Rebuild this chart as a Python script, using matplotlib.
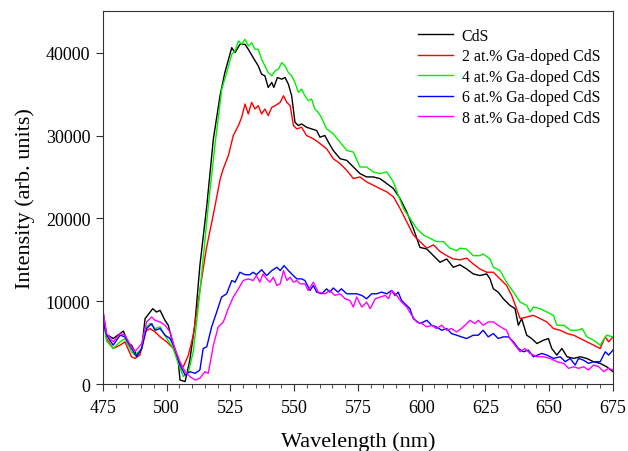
import matplotlib.pyplot as plt
from matplotlib.ticker import MultipleLocator

plt.rcParams['font.family'] = ['Liberation Serif', 'DejaVu Serif']

# CdS (undoped)
cds_wl = [475, 476.4, 479, 483, 485, 486.2, 488.2, 490.2, 491.5, 494.5, 496, 497.4, 499.3, 500.6,
          502.6, 504.5, 505.2, 507.2, 509, 511, 513, 515.7, 518.3, 520.9, 522.8, 525.5, 526.8,
          528.7, 530.7, 532, 533.9, 535.9, 537.2, 538.5, 539.8, 541.2, 542, 543.4, 545.1, 546.4,
          547.7, 549, 550.3, 551.6, 552.9, 554.8, 556.8, 558.8, 560.1, 562, 563.4, 565.3, 568,
          570.6, 573.2, 575.8, 578.4, 581, 583.6, 586.3, 588.9, 591.5, 594.1, 596.7, 599.3, 602,
          604.6, 607.2, 609.8, 612.4, 615, 617.6, 620.2, 622.8, 625.5, 626.8, 628.1, 630, 632,
          634.6, 636.6, 637.9, 639.2, 641.2, 643.1, 645.2, 647.8, 649.7, 651, 653, 655, 657,
          659.6, 662.2, 664.7, 667.4, 670, 672.5, 675]
cds_int = [8700, 6000, 5500, 6400, 4900, 4700, 3500, 4300, 7900, 9100, 8700, 8900, 7700, 7100,
           4700, 2800, 500, 300, 2800, 7100, 14300, 21500, 29600, 34800, 37600, 40600, 40000,
           41000, 41000, 40400, 39400, 38400, 37400, 37200, 35800, 36400, 35800, 37000, 36800, 37000,
           36200, 34800, 31600, 31200, 31400, 31000, 30800, 30600, 29800, 30000, 29200, 28200, 27200,
           27000, 26200, 25400, 25000, 25000, 24800, 24200, 23600, 22400, 20800, 18800, 16500, 16300,
           15500, 14700, 15100, 14100, 14400, 13900, 13300, 13100, 13300, 12700, 11500, 11100, 10300,
           9500, 9100, 7100, 7900, 5900, 5500, 4900, 5300, 5500, 4300, 3500, 4300, 3300,
           3100, 3300, 3100, 2700, 2500, 2100, 1500]

# 2 at.% Ga-doped CdS
ga2_wl = [475, 476.4, 479, 481.7, 483.6, 486.2, 487.5, 489.5, 491.5, 493.4, 495.4, 497.4, 500,
          502.6, 504.5, 506.5, 508.5, 510.4, 513, 515.5, 518.3, 521, 522.2, 524.2, 526.1, 528.1,
          529.4, 530.7, 532, 533.3, 534.6, 535.9, 537.2, 538.5, 539.8, 541.2, 542.5, 544.5, 545.8,
          547.1, 548.4, 549.7, 551, 552.9, 554.8, 557.5, 559.4, 562.7, 565.3, 568, 570.6, 573.2,
          575.8, 578.4, 581, 583.6, 586.3, 588.9, 591.5, 594.1, 596.7, 599.3, 602, 604.6, 607.2,
          609.8, 612.4, 615, 617.6, 620.2, 622.8, 625.5, 628.1, 630.7, 633.3, 635.3, 637.2, 638.6,
          641.2, 643.8, 646.5, 649.1, 651.7, 654.3, 657, 659.6, 662.2, 664.8, 667.4, 670, 672,
          673.3, 675]
ga2_int = [8300, 5500, 4300, 4700, 5100, 3300, 3100, 3500, 6300, 6700, 6300, 5700, 5100,
           4300, 2700, 2100, 3500, 5900, 11300, 16300, 20500, 24800, 26000, 27600, 30000, 31200,
           32200, 33800, 32600, 34000, 33200, 33600, 32600, 33200, 32400, 33400, 33600, 34000, 34800,
           34000, 33600, 31200, 30800, 31000, 30000, 29600, 29200, 28400, 27200, 26600, 25800, 24800,
           25000, 24400, 24000, 23600, 23200, 22600, 21200, 19600, 18000, 17200, 16400, 16800, 16000,
           15500, 15100, 15000, 15200, 14500, 13900, 13500, 13500, 12700, 11900, 10700, 9100, 7900,
           8100, 8300, 7900, 7500, 6700, 6500, 6100, 5900, 5500, 5100, 4700, 4300, 5700,
           5100, 5700]

# 4 at.% Ga-doped CdS
ga4_wl = [475, 476.4, 479, 481.7, 483.6, 486.2, 487.5, 490.2, 491.5, 493.4, 495.4, 497.4, 500,
          502.6, 504.5, 506.5, 508.5, 510.4, 513, 516.3, 519, 521.6, 523.5, 525.5, 526.8, 528.1,
          529.4, 530.7, 532, 533.3, 534.6, 535.9, 537.2, 538.5, 539.8, 541.2, 542.5, 543.8, 545.1,
          546.4, 547.7, 549, 550.3, 551.6, 552.9, 554.2, 555.5, 556.8, 558.1, 559.4, 560.8, 562.7,
          565.3, 568, 570.6, 573.2, 575.8, 578.4, 581, 583.6, 586.3, 588.9, 590.8, 592.8, 595.4,
          598, 600.6, 603.2, 605.8, 608.5, 611.1, 613.7, 615, 617.6, 620.2, 622.8, 624.1, 626.8,
          628.1, 630.7, 633.3, 636, 638.6, 641.2, 642.5, 643.8, 646.5, 649.1, 651.7, 653, 655.7,
          658.4, 661, 663, 664.8, 667.4, 670, 672.5, 675]
ga4_int = [8100, 5200, 4300, 5100, 5500, 3900, 3500, 4300, 6700, 7300, 6700, 6900, 5500,
           4300, 2500, 900, 1500, 3900, 11100, 21500, 29100, 35600, 37600, 39800, 40200, 41400,
           41000, 41600, 40800, 41200, 40400, 40400, 39200, 38400, 37600, 37200, 37800, 38000, 38800,
           38400, 37600, 37200, 36400, 35200, 35600, 34800, 34200, 34400, 33200, 32800, 32100, 30800,
           30200, 29200, 28200, 28000, 26200, 26200, 25600, 25400, 25600, 24400, 22800, 21200, 20000,
           18800, 18000, 17600, 17200, 17200, 16400, 16100, 16400, 16300, 15500, 15500, 15700, 15100,
           14100, 13700, 12300, 11100, 9900, 9500, 8700, 9300, 9100, 8700, 8300, 7100, 7100,
           6500, 6500, 6700, 5700, 5300, 4700, 5900, 5700]

# 6 at.% Ga-doped CdS
ga6_wl = [475, 476.4, 479, 481.7, 483.6, 486.2, 488.2, 490.2, 492.1, 494.1, 495.4, 497.4, 499.3,
          501.3, 503.2, 505.2, 507.2, 509.1, 511.1, 513, 514.3, 515.7, 517.6, 519.6, 521.5, 523.5,
          525.5, 526.8, 528.7, 530.7, 532.6, 533.9, 535.2, 537.2, 539.2, 541.2, 543.2, 544.5, 546,
          547.7, 549, 551, 552.9, 554.2, 556.2, 557.5, 558.8, 560.8, 562.7, 564, 565.3, 567.2,
          568.5, 570.6, 572.5, 574.5, 576.5, 578.4, 580.4, 582.3, 584.3, 586.3, 588.2, 589.5, 590.8,
          592.1, 593.4, 595.4, 596.7, 599.3, 602, 603.9, 605.8, 607.8, 609.8, 611.7, 613.7, 615.6,
          617.6, 620.2, 622.2, 624.1, 626.1, 628.1, 630, 632, 634, 636, 637.9, 639.9, 641.8,
          643.8, 647.1, 649.1, 651.7, 654.3, 656.3, 658.2, 660.2, 661.5, 663.4, 665.4, 667.4, 670,
          672, 673.3, 675]
ga6_int = [7700, 5900, 4700, 5900, 5700, 4300, 3300, 4300, 6700, 7300, 6500, 6700, 5900,
           5500, 4300, 2300, 1100, 1500, 1300, 1700, 4300, 4500, 6900, 8700, 10500, 10900,
           12500, 12300, 13500, 13200, 13200, 13500, 13200, 13800, 13100, 13700, 14100, 13700, 14300,
           13700, 13300, 12700, 12700, 12500, 11300, 11900, 11100, 10900, 11500, 11100, 11600, 11100,
           11500, 10900, 10900, 10900, 10700, 10300, 10900, 10900, 11100, 10900, 11300, 10700, 11100,
           10100, 9700, 9100, 7900, 7300, 7700, 7100, 6900, 6500, 6700, 6100, 5900, 5700,
           5500, 5900, 5900, 6500, 5700, 6100, 5500, 5700, 5700, 5100, 4300, 3900, 4100,
           3300, 3700, 3500, 3100, 3300, 2700, 3100, 2300, 3100, 2900, 2500, 2700, 2700,
           3900, 3500, 4100]

# 8 at.% Ga-doped CdS
ga8_wl = [475, 476.4, 479, 481.7, 483.6, 486.2, 487.5, 490.2, 492.1, 494.1, 495.4, 497.4, 499.3,
          501.3, 503.2, 505.2, 507.2, 509.1, 511.1, 513, 515, 516.3, 518.3, 520.2, 522.2, 524.1,
          526.1, 528.1, 530, 532, 533.9, 535.2, 536.5, 537.8, 539.2, 540.5, 541.8, 543.2, 544.5,
          545.8, 547.1, 548.4, 549.7, 551, 552.3, 554.2, 555.5, 557.5, 559.4, 562, 564, 565.9,
          568, 569.9, 571.8, 573.2, 574.5, 576.5, 578.4, 579.8, 581.8, 583.6, 585.7, 587, 588.2,
          590.2, 592.1, 594.1, 596.1, 598, 600, 602, 603.9, 605.8, 607.8, 609.8, 611.7, 613.7,
          615.6, 617.3, 618.9, 620.9, 622.2, 624.1, 626.1, 628.1, 630, 632, 633.3, 634.6, 636.6,
          638.6, 640.5, 642.5, 645.2, 647.8, 650.4, 653, 655.7, 657.6, 659.6, 661.5, 663.5, 665.4,
          667.4, 669.4, 671.4, 673.3, 675]
ga8_int = [8900, 6100, 5100, 6100, 5900, 4500, 3900, 4900, 7500, 8100, 7700, 7500, 7100,
           6300, 4300, 2700, 1500, 900, 500, 700, 1500, 1300, 4700, 6900, 7500, 9100,
           10500, 11500, 12500, 12700, 12500, 13100, 12300, 13300, 12700, 12300, 12900, 11900, 12100,
           13700, 12500, 12900, 12300, 12500, 12100, 12100, 11300, 12300, 11100, 10900, 11300, 10700,
           10900, 10300, 10100, 9300, 10500, 9300, 9900, 9100, 10300, 10500, 10700, 10300, 11300,
           10700, 9900, 9300, 8300, 7500, 7300, 6900, 7100, 6700, 7100, 6500, 6700, 6300,
           6700, 7200, 7700, 7300, 7700, 7100, 7500, 7500, 7100, 6700, 6500, 5500, 4700,
           3900, 4300, 3700, 3300, 3300, 3100, 2700, 2500, 1900, 2100, 1900, 2100, 1700,
           2300, 2100, 1500, 1900, 1700]

series = [
    (cds_wl, cds_int, 'black', 'CdS'),
    (ga2_wl, ga2_int, 'red', '2 at.% Ga-doped CdS'),
    (ga4_wl, ga4_int, '#00ee00', '4 at.% Ga-doped CdS'),
    (ga6_wl, ga6_int, 'blue', '6 at.% Ga-doped CdS'),
    (ga8_wl, ga8_int, 'magenta', '8 at.% Ga-doped CdS'),
]

fig = plt.figure(figsize=(6.28, 4.52), dpi=100)
ax = fig.add_axes([0.164, 0.148, 0.812, 0.825])

for wl, inten, color, label in series:
    ax.plot(wl, inten, color=color, lw=1.0, label=label)

ax.set_xlim(475, 675)
ax.set_ylim(0, 45000)
ax.xaxis.set_major_locator(MultipleLocator(25))
ax.xaxis.set_minor_locator(MultipleLocator(5))
ax.yaxis.set_major_locator(MultipleLocator(10000))
ax.tick_params(axis='both', which='major', direction='out', length=5, labelsize=13,
               color='#333333', pad=4)
ax.tick_params(axis='x', which='major', pad=6)
ax.tick_params(axis='x', which='minor', direction='out', length=3, color='#333333')
for s in ax.spines.values():
    s.set_color('#333333')

ax.set_xlabel('Wavelength (nm)', fontsize=16, labelpad=11)
ax.set_ylabel('Intensity (arb. units)', fontsize=16, labelpad=8)

ax.legend(loc='upper right', bbox_to_anchor=(0.975, 0.955), frameon=False, fontsize=11.4,
          handlelength=2.2, handletextpad=0.55, labelspacing=0.28, borderpad=0,
          borderaxespad=0)

plt.savefig('out.png', dpi=100)
